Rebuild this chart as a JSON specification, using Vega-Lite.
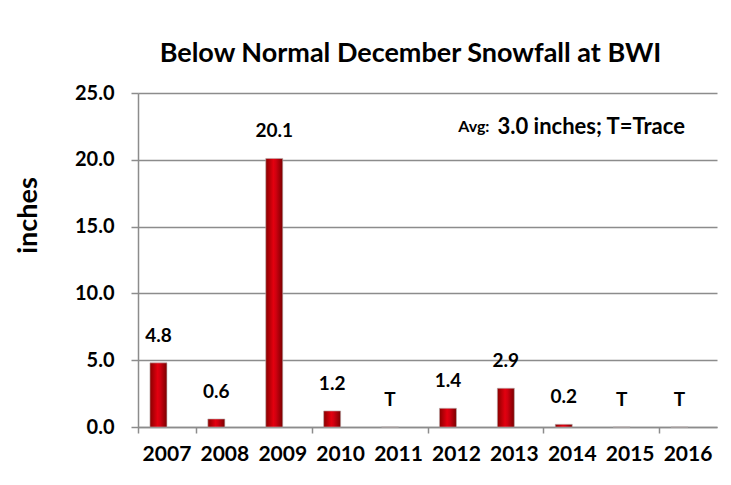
{
  "$schema": "https://vega.github.io/schema/vega-lite/v6.json",
  "autosize": {"type": "none"},
  "width": 579,
  "height": 334,
  "padding": {"left": 138, "top": 93, "right": 14, "bottom": 58},
  "background": "white",
  "config": {
    "view": {"stroke": null},
    "font": "Lato"
  },
  "title": {
    "text": "Below Normal December Snowfall at BWI",
    "fontSize": 27,
    "fontWeight": "bold",
    "font": "Lato",
    "color": "#000000",
    "anchor": "middle",
    "dx": -17,
    "offset": 15
  },
  "data": {
    "values": [
      {"year": "2007", "snow": 4.8, "label": "4.8"},
      {"year": "2008", "snow": 0.6, "label": "0.6"},
      {"year": "2009", "snow": 20.1, "label": "20.1"},
      {"year": "2010", "snow": 1.2, "label": "1.2"},
      {"year": "2011", "snow": 0, "label": "T"},
      {"year": "2012", "snow": 1.4, "label": "1.4"},
      {"year": "2013", "snow": 2.9, "label": "2.9"},
      {"year": "2014", "snow": 0.2, "label": "0.2"},
      {"year": "2015", "snow": 0, "label": "T"},
      {"year": "2016", "snow": 0, "label": "T"}
    ]
  },
  "resolve": {"axis": {"x": "independent"}},
  "layer": [
    {
      "mark": {
        "type": "bar",
        "width": 17,
        "xOffset": -8.5,
        "color": {
          "gradient": "linear",
          "x1": 0, "x2": 1, "y1": 0, "y2": 0,
          "stops": [
            {"offset": 0, "color": "#8a0000"},
            {"offset": 0.45, "color": "#e3000f"},
            {"offset": 0.6, "color": "#d00010"},
            {"offset": 1, "color": "#7a0000"}
          ]
        },
        "stroke": "#b8b0b0",
        "strokeWidth": 0.6
      },
      "encoding": {
        "x": {
          "field": "year",
          "type": "nominal",
          "scale": {"paddingInner": 0, "paddingOuter": 0},
          "axis": {
            "title": null,
            "orient": "bottom",
            "labelAngle": 0,
            "labelFont": "Lato",
            "labelFontSize": 21,
            "labelFontWeight": "bold",
            "labelColor": "#000000",
            "labelPadding": 16,
            "domainColor": "#8c8c8c",
            "domainWidth": 1.5,
            "ticks": false,
            "grid": false
          }
        },
        "y": {
          "field": "snow",
          "type": "quantitative",
          "scale": {"domain": [0, 25], "nice": false},
          "axis": {
            "title": "inches",
            "titleFont": "Lato",
            "titleFontSize": 27,
            "titleFontWeight": "bold",
            "titleColor": "#000000",
            "titleX": -96,
            "titleY": 122,
            "values": [0, 5, 10, 15, 20, 25],
            "format": ".1f",
            "labelFont": "Lato",
            "labelFontSize": 20,
            "labelFontWeight": "bold",
            "labelColor": "#000000",
            "labelPadding": 17,
            "domainColor": "#8c8c8c",
            "domainWidth": 1.5,
            "tickColor": "#8c8c8c",
            "tickWidth": 1.5,
            "tickSize": 7,
            "gridColor": "#8c8c8c",
            "gridWidth": 1.5
          }
        }
      }
    },
    {
      "mark": {
        "type": "text",
        "xOffset": -8.5,
        "dy": -27,
        "fontSize": 19,
        "fontWeight": "bold",
        "font": "Lato",
        "color": "#000000"
      },
      "encoding": {
        "x": {
          "field": "year",
          "type": "nominal",
          "axis": {
            "title": null,
            "orient": "bottom",
            "values": ["2007", "2009", "2011", "2013", "2015"],
            "labels": false,
            "domain": false,
            "grid": false,
            "ticks": true,
            "tickBand": "extent",
            "tickColor": "#8c8c8c",
            "tickWidth": 1.5,
            "tickSize": 6
          }
        },
        "y": {"field": "snow", "type": "quantitative"},
        "text": {"field": "label"}
      }
    },
    {
      "data": {"values": [{"year": "2012", "snow": 22.45, "t1": "Avg:", "t2": "3.0 inches; T=Trace"}]},
      "encoding": {
        "x": {"field": "year", "type": "nominal", "axis": null},
        "y": {"field": "snow", "type": "quantitative"}
      },
      "layer": [
        {
          "mark": {"type": "text", "align": "right", "dx": 33, "fontSize": 16, "fontWeight": "bold", "font": "Lato", "color": "#000000"},
          "encoding": {"text": {"field": "t1"}}
        },
        {
          "mark": {"type": "text", "align": "left", "dx": 41, "fontSize": 22, "fontWeight": "bold", "font": "Lato", "color": "#000000"},
          "encoding": {"text": {"field": "t2"}}
        }
      ]
    }
  ]
}
